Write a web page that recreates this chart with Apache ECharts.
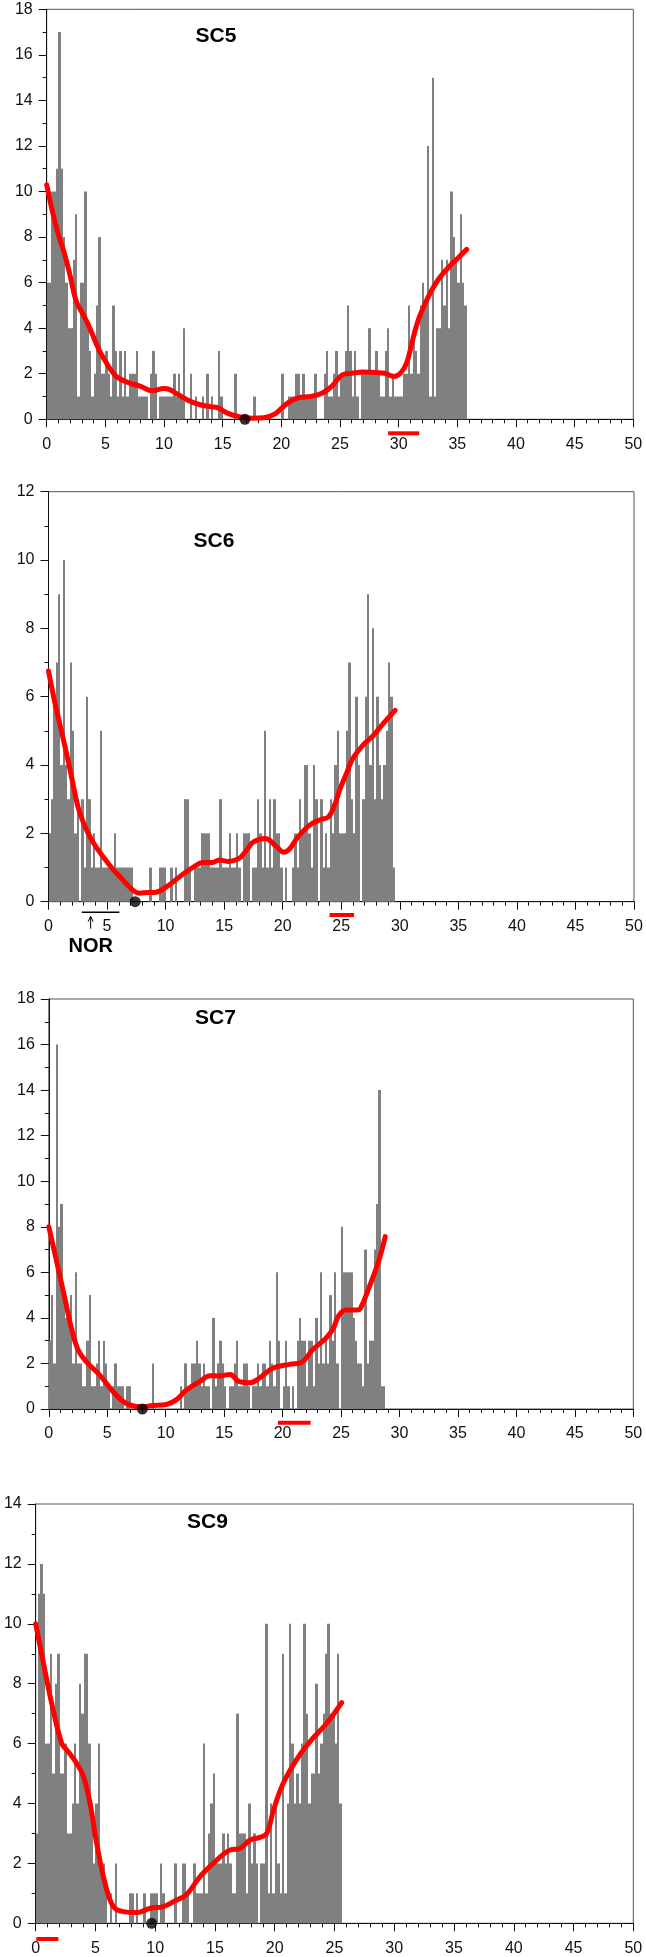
<!DOCTYPE html>
<html><head><meta charset="utf-8">
<script src="https://cdn.jsdelivr.net/npm/echarts@6/dist/echarts.min.js"></script>
<style>html,body{margin:0;padding:0;background:#fff}#c{width:646px;height:1957px}</style>
</head><body><div id="c"></div>
<script>
// ---------- data ----------
const BIN = 0.2; // bin width (x units)
const panelNames = ['SC5', 'SC6', 'SC7', 'SC9'];
const yMaxes = [18, 12, 18, 14];
const xTicks = [0, 5, 10, 15, 20, 25, 30, 35, 40, 45, 50];

const sc5Counts = [
6,6,10,10,11, 17,11,8,6,4, 4,7,9,1,6, 6,10,4,3,1, 2,5,8,2,2,
3,2,1,5,3, 1,3,1,3,1, 2,2,2,3,1, 1,1,1,0,2, 3,2,0,1,1,
1,1,1,1,2, 1,2,1,4,0, 0,2,0,1,0, 0,1,0,2,0, 1,0,0,3,1,
0,0,0,0,0, 2,0,0,0,0, 0,0,0,1,0, 0,0,0,0,0, 0,0,0,0,0,
2,0,0,1,1, 1,2,2,1,2, 1,1,1,1,2, 0,0,0,2,3, 1,1,2,3,1,
2,2,3,5,3, 1,3,1,0,2, 2,2,4,2,2, 3,2,1,1,3, 4,1,2,1,1,
1,1,2,2,5, 2,4,3,2,5, 6,5,12,1,15, 1,4,4,7,5, 7,4,10,8,7, 6,9,6,5];

const sc6Counts = [
2,3,6,7,9, 4,10,4,3,7, 5,2,3,0,3, 1,6,3,1,2, 1,1,5,1,1,
1,1,1,2,1, 1,1,1,1,1, 1,0,0,0,0, 0,0,0,1,0, 0,0,1,1,1,
0,0,1,0,1, 0,0,0,3,3, 1,0,1,1,1, 2,2,2,2,1, 1,1,1,3,1,
1,1,2,1,1, 2,1,0,2,2, 2,0,1,1,3, 2,1,5,1,3, 1,3,2,2,1,
0,1,0,0,1, 2,1,3,2,4, 4,2,1,4,3, 0,3,1,2,1, 3,2,4,5,2,
2,2,5,7,3, 2,6,4,0,3, 6,9,4,8,3, 6,4,3,4,5, 7,6,1];

const sc7Counts = [
3,5,2,16,8, 9,5,4,4,5, 2,6,2,2,1, 1,3,5,1,1, 2,3,1,3,2,
1,0,1,2,1, 1,1,0,1,1, 0,0,0,0,0, 0,0,0,0,2, 0,0,0,0,0,
0,0,0,0,0, 0,1,0,2,1, 1,2,2,3,2, 1,2,1,1,0, 4,1,2,3,2,
1,0,1,1,2, 3,1,1,2,2, 1,0,1,1,2, 1,2,2,1,3, 2,1,6,3,0,
1,3,1,0,1, 0,3,4,3,3, 1,3,3,1,4, 2,6,2,3,2, 5,3,6,2,0,
8,6,6,6,6, 4,3,2,2,1, 7,2,3,3,7, 9,14,1,1];

const sc9Counts = [
3,11,12,11,6, 6,9,5,8,9, 5,5,6,3,3, 4,6,4,8,7, 9,9,6,4,2,
4,6,2,2,1, 0,1,0,2,0, 0,0,0,0,1, 1,0,1,0,0, 1,0,0,1,1,
1,0,2,1,0, 0,0,0,2,0, 0,2,2,1,0, 0,2,1,1,1, 6,1,3,4,5,
2,2,2,3,2, 3,2,1,1,7, 3,3,3,1,4, 2,3,2,0,2, 2,10,1,4,1,
4,2,1,9,1, 4,10,6,4,5, 4,6,10,7,4, 5,5,8,5,6, 7,9,10,7,7, 6,9,4];

// smoothed curves [x, y]
const sc5Curve = [[0,10.3],[0.5,9.1],[1,8.1],[1.5,7.3],[2,6.3],[2.5,5.2],[3,4.7],[3.5,4.2],[4,3.6],[4.5,3.0],[5,2.55],[5.5,2.15],[6,1.85],[7,1.6],[8,1.45],[9,1.25],[10,1.35],[10.5,1.3],[11,1.15],[12,0.85],[13,0.65],[14,0.55],[14.6,0.5],[15.5,0.25],[16.5,0.1],[17.5,0.05],[18.5,0.07],[19.5,0.25],[20.5,0.7],[21.5,0.95],[22.5,1.0],[23.5,1.15],[24.3,1.45],[25.2,1.95],[26,2.02],[27,2.08],[28,2.05],[28.8,2.02],[29.6,1.88],[30.2,2.05],[30.7,2.5],[31.2,3.5],[31.7,4.4],[32.5,5.35],[33.2,6.0],[33.7,6.35],[34.4,6.75],[35.1,7.1],[35.8,7.46]];
const sc6Curve = [[0,6.75],[0.5,5.9],[1.1,5.0],[1.5,4.4],[2,3.6],[2.5,2.8],[3,2.3],[3.7,1.8],[4.7,1.3],[5.5,0.95],[6.1,0.73],[7.2,0.34],[7.8,0.25],[8.5,0.27],[9,0.27],[10.1,0.44],[11.2,0.73],[12.4,1.02],[13.2,1.15],[14,1.15],[14.6,1.22],[15.3,1.18],[15.8,1.2],[16.4,1.3],[17,1.55],[17.5,1.75],[18.5,1.85],[19.5,1.6],[20.1,1.45],[20.6,1.55],[21.2,1.85],[22.3,2.24],[23.2,2.4],[23.9,2.48],[24.4,2.8],[24.9,3.3],[25.5,3.8],[26.0,4.2],[26.9,4.6],[27.7,4.85],[28.6,5.22],[29.6,5.6]];
const sc7Curve = [[0,8.0],[0.66,6.5],[1.37,4.86],[1.94,3.54],[2.5,2.6],[3.2,2.08],[4.36,1.49],[5.5,0.76],[6.6,0.25],[7.8,0.1],[8.9,0.15],[10.06,0.2],[10.9,0.4],[11.77,0.83],[12.9,1.2],[13.8,1.46],[14.6,1.45],[15.5,1.52],[16.3,1.2],[17.2,1.15],[18.0,1.35],[19.15,1.79],[20.57,1.96],[21.56,2.03],[22.55,2.59],[23.68,3.1],[24.3,3.5],[24.8,4.1],[25.4,4.35],[26.37,4.35],[26.66,4.42],[27.37,5.3],[28.2,6.47],[28.78,7.57]];
const sc9Curve = [[0,10.0],[0.64,8.7],[1.34,7.34],[2.18,6.0],[2.6,5.79],[3.43,5.34],[4.0,4.9],[4.55,4.0],[5.1,2.67],[5.8,1.34],[6.5,0.56],[7.33,0.39],[8.45,0.36],[9.56,0.5],[10.7,0.56],[11.8,0.78],[12.6,0.95],[13.75,1.56],[14.86,2.0],[16.26,2.45],[17.1,2.5],[17.94,2.78],[18.77,2.87],[19.33,3.0],[19.9,3.78],[20.7,4.67],[21.98,5.56],[23.2,6.18],[24.35,6.68],[25.6,7.37]];

// annotations (x units)
const minimumDots = [16.9, 7.4, 8.0, 9.7];
const redRanges = [[29.1, 31.75], [24.0, 26.1], [19.6, 22.4], [0.05, 1.9]];
const norRange = [2.84, 6.05];
const norArrowX = 3.6;

// ---------- layout ----------
const grids = [
  {left: 46.7, top: 9.3, width: 586.6, height: 410},
  {left: 48.5, top: 491.7, width: 585.5, height: 410},
  {left: 48.8, top: 999, width: 584.5, height: 410},
  {left: 35.7, top: 1504, width: 597.6, height: 419.3}
];
const titlePos = [[216, 36], [214, 541.5], [215.5, 1018], [207.5, 1522.5]];
const redBarOffset = [14, 13.3, 13.7, 15.7];
const FONT = '"Liberation Sans", Arial, sans-serif';

const counts = [sc5Counts, sc6Counts, sc7Counts, sc9Counts];
const curves = [sc5Curve, sc6Curve, sc7Curve, sc9Curve];

const chart = echarts.init(document.getElementById('c'), null, {renderer: 'canvas'});

const axisCommon = {
  axisLine: {show: true, onZero: false, lineStyle: {color: '#111', width: 1}},
  axisTick: {show: true, length: 8, lineStyle: {color: '#111', width: 1}},
  minorTick: {show: true, length: 4, lineStyle: {color: '#111', width: 1}},
  splitLine: {show: false},
  minorSplitLine: {show: false}
};

const xAxes = [], yAxes = [], series = [];
grids.forEach((g, i) => {
  xAxes.push(Object.assign({}, axisCommon, {
    type: 'value', gridIndex: i, min: 0, max: 50, interval: 5,
    minorTick: Object.assign({}, axisCommon.minorTick, {splitNumber: 5}),
    axisLabel: {fontSize: 16, margin: 17, color: '#111', fontFamily: FONT,
      formatter: v => (xTicks.indexOf(v) >= 0 ? String(v) : '')}
  }));
  yAxes.push(Object.assign({}, axisCommon, {
    type: 'value', gridIndex: i, min: 0, max: yMaxes[i], interval: 2,
    minorTick: Object.assign({}, axisCommon.minorTick, {splitNumber: 2}),
    axisLabel: {fontSize: 16, margin: 14, color: '#111', fontFamily: FONT}
  }));
  const barData = counts[i].map((c, k) => [k * BIN, c]).filter(d => d[1] > 0);
  series.push({
    type: 'custom', xAxisIndex: i, yAxisIndex: i, data: barData, z: 2,
    renderItem: function (params, api) {
      const x0 = api.value(0), h = api.value(1);
      const pTop = api.coord([x0, h]);
      const pEnd = api.coord([x0 + BIN, 0]);
      const xa = Math.round(pTop[0]), xb = Math.round(pEnd[0]);
      return {type: 'rect', shape: {x: xa, y: pTop[1], width: xb - xa, height: pEnd[1] - pTop[1]},
        style: {fill: '#808080'}};
    }
  });
  series.push({
    type: 'line', xAxisIndex: i, yAxisIndex: i, data: curves[i], smooth: 0.4,
    symbol: 'none', z: 3, lineStyle: {color: '#ff0000', width: 5, cap: 'round'}
  });
  series.push({
    type: 'scatter', xAxisIndex: i, yAxisIndex: i, data: [[minimumDots[i], 0]],
    symbolSize: 11, itemStyle: {color: '#000'}, z: 5, clip: false
  });
});

chart.setOption({
  animation: false,
  backgroundColor: '#fff',
  grid: grids.map(g => Object.assign({show: true, borderColor: '#555', borderWidth: 1, backgroundColor: 'transparent'}, g)),
  xAxis: xAxes,
  yAxis: yAxes,
  series: series
});

// annotation graphics
const graphics = [];
grids.forEach((g, i) => {
  graphics.push({type: 'text', x: titlePos[i][0], y: titlePos[i][1], z: 10,
    style: {text: panelNames[i], fontSize: 21, fontWeight: 'bold', fontFamily: FONT, fill: '#000',
      textAlign: 'center', textVerticalAlign: 'middle'}});
  const a = chart.convertToPixel({gridIndex: i}, [redRanges[i][0], 0]);
  const b = chart.convertToPixel({gridIndex: i}, [redRanges[i][1], 0]);
  graphics.push({type: 'line', z: 10, shape: {x1: a[0], y1: a[1] + redBarOffset[i], x2: b[0], y2: b[1] + redBarOffset[i]},
    style: {stroke: '#ff0000', lineWidth: 4}});
});
// NOR annotation (panel SC6)
const n0 = chart.convertToPixel({gridIndex: 1}, [norRange[0], 0]);
const n1 = chart.convertToPixel({gridIndex: 1}, [norRange[1], 0]);
const na = chart.convertToPixel({gridIndex: 1}, [norArrowX, 0]);
graphics.push({type: 'line', z: 10, shape: {x1: n0[0], y1: n0[1] + 10.6, x2: n1[0], y2: n1[1] + 10.6},
  style: {stroke: '#000', lineWidth: 1.5}});
graphics.push({type: 'line', z: 10, shape: {x1: na[0], y1: na[1] + 27, x2: na[0], y2: na[1] + 15},
  style: {stroke: '#000', lineWidth: 1}});
graphics.push({type: 'polyline', z: 10, shape: {points: [[na[0] - 2.5, na[1] + 20], [na[0], na[1] + 14.5], [na[0] + 2.5, na[1] + 20]]},
  style: {stroke: '#000', lineWidth: 1, fill: null}});
graphics.push({type: 'text', x: na[0], y: na[1] + 45, z: 10,
  style: {text: 'NOR', fontSize: 20, fontWeight: 'bold', fontFamily: FONT, fill: '#000',
    textAlign: 'center', textVerticalAlign: 'middle'}});
chart.setOption({graphic: graphics});
</script>
</body></html>
